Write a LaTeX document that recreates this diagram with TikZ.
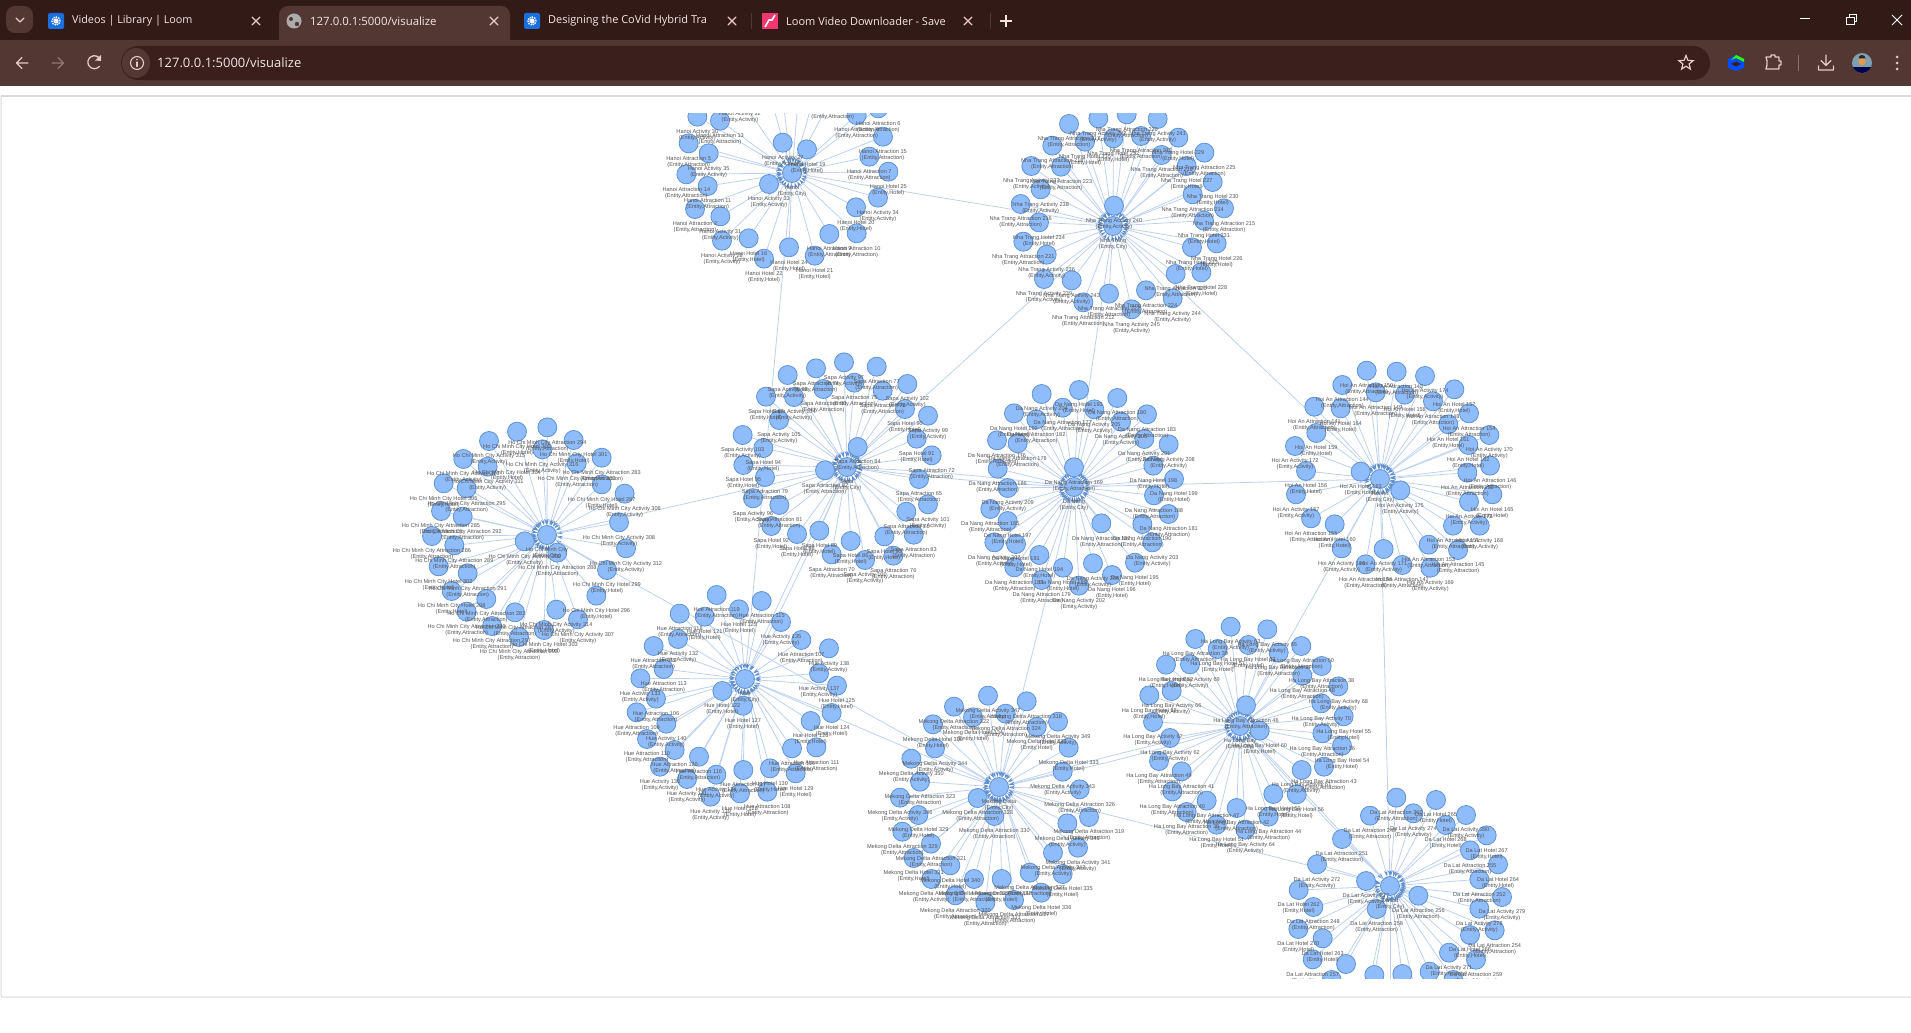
\documentclass[tikz,border=0pt]{standalone}
\usepackage{fontspec}
\setmainfont{Liberation Sans}
\newfontfamily\uifont{Open Sans}
\usetikzlibrary{arrows.meta,shapes.geometric}
\pgfdeclarelayer{edges}\pgfdeclarelayer{labels}\pgfdeclarelayer{chrome}
\pgfsetlayers{edges,main,labels,chrome}
\definecolor{dotfill}{HTML}{8FBCFA}
\definecolor{dotline}{HTML}{5E92D6}
\definecolor{edgecol}{HTML}{BDD1EF}
\definecolor{tipcol}{HTML}{5F8FCC}
\definecolor{labcol}{HTML}{555555}
\definecolor{barcol}{HTML}{321A16}
\definecolor{toolcol}{HTML}{523733}
\definecolor{addrcol}{HTML}{3A1F1C}
\definecolor{uitext}{HTML}{F3E6E2}
\definecolor{uiicon}{HTML}{E8C9C3}
\definecolor{favblue}{HTML}{1A6FDF}
\definecolor{favpink}{HTML}{F0356F}
\tikzset{
  dot/.style={circle,draw=dotline,fill=dotfill,line width=.8pt,minimum size=19pt,inner sep=0pt},
  lab/.style={align=center,inner sep=0pt,text=labcol,font=\fontsize{5.6}{5.9}\selectfont},
  edge/.style={draw=edgecol,line width=.8pt,-{Stealth[length=6pt,width=3.5pt,color=tipcol]}},
  tabtext/.style={anchor=west,inner sep=0pt,text=uitext,font=\uifont\fontsize{11}{14}\selectfont},
  uistroke/.style={draw=uiicon,line width=1.3pt,line cap=round,line join=round},
  winstroke/.style={draw=white,line width=1pt},
}
% what each pass does with a hub
\newcommand\hubdot[4]{\node[dot] (#1) at (#3,#4) {};}
\newcommand\hublabel[4]{\node[lab] (#1-label) at (#3,#4+18.3) {#2\\(Entity,City)};}
% what each pass does with a list of leaves
\newcommand\leafdots[5]{\foreach \cx/\cy/\ty/\nm in {#5}{\node[dot] (#1-\cx-\cy) at ({#3+\cx/3},{#4+\cy/3}) {};}}
\newcommand\leafedges[5]{\foreach \cx/\cy/\ty/\nm in {#5}{\draw[edge] (#1-\cx-\cy) -- (#1);}}
\newcommand\leaflabels[5]{\foreach \cx/\cy/\ty/\nm in {#5}{\node[lab] (#1-\cx-\cy-label) at ({#3+\cx/3},{#4+\cy/3+18.3}) {#2 \ty\ \nm\\(Entity,\ty)};}}
\newcommand\stubdots[4]{\foreach \cx/\cy in {#4}{\node[dot] (#1-\cx-\cy) at ({#2+\cx/3},{#3+\cy/3}) {};}}
\newcommand\stubedges[4]{\foreach \cx/\cy in {#4}{\draw[edge] (#1-\cx-\cy) -- (#1);}}
\newcommand\allhubs[1]{%
#1{hanoi}{Hanoi}{792}{173}
#1{ntrang}{Nha Trang}{1113}{226}
#1{sapa}{Sapa}{847}{467}
#1{danang}{Da Nang}{1074}{487}
#1{hoian}{Hoi An}{1380}{479}
#1{hcmc}{Ho Chi Minh City}{547}{535}
#1{hue}{Hue}{745}{679}
#1{mekong}{Mekong Delta}{999}{787}
#1{halong}{Ha Long Bay}{1240}{726}
#1{dalat}{Da Lat}{1390}{886}
}
\newcommand\allstubs[1]{%
#1{hanoi}{660}{100}{320/-50,360/-70,420/-70,480/-70}
#1{dalat}{1280}{770}{198/582,283/615,367/612,155/630,520/630,330/700,250/720,420/720}
}
\newcommand\allleaves[1]{%
#1{hanoi}{Hanoi}{660}{100}{240/-5/Activity/32,112/50/Activity/30,180/62/Attraction/13,86/130/Attraction/5,146/160/Activity/35,79/223/Attraction/14,143/258/Attraction/11,105/327/Attraction/2,181/349/Activity/31,186/422/Activity/28,266/415/Hotel/16,312/476/Hotel/22,387/442/Hotel/24,464/467/Hotel/21,508/402/Attraction/9,590/400/Attraction/10,588/322/Hotel/20,654/293/Activity/34,685/215/Hotel/25,628/170/Attraction/7,669/110/Attraction/15,655/25/Attraction/6,590/45/Attraction/4,518/-13/Attraction/3,368/128/Activity/27,441/148/Hotel/19,327/252/Activity/33}
#1{ntrang}{Nha Trang}{1000}{100}{342/317/Activity/240,380/43/Attraction/226,295/55/Activity/242,473/57/Activity/241,207/72/Attraction/217,340/115/Hotel/232,423/108/Attraction/213,535/113/Hotel/229,255/125/Hotel/235,157/137/Attraction/218,613/158/Attraction/225,485/165/Attraction/219,560/198/Hotel/227,183/200/Attraction/223,94/198/Activity/237,638/246/Hotel/230,122/268/Activity/238,578/283/Attraction/214,62/312/Attraction/216,672/325/Attraction/215,612/362/Hotel/231,117/367/Hotel/234,650/430/Hotel/226,70/425/Attraction/221,140/464/Activity/236,576/442/Hotel/233,604/517/Hotel/228,132/537/Activity/239,215/541/Activity/243,527/522/Attraction/220,438/571/Attraction/224,250/607/Attraction/212,327/581/Attraction/222,518/595/Activity/244,395/628/Activity/245}
#1{sapa}{Sapa}{720}{340}{372/67/Activity/97,288/85/Attraction/74,470/80/Attraction/77,203/105/Activity/98,403/128/Attraction/75,562/132/Activity/102,310/147/Attraction/80,488/152/Attraction/78,138/170/Hotel/87,222/171/Activity/104,555/207/Hotel/90,624/227/Activity/99,177/240/Activity/105,68/285/Activity/103,590/296/Hotel/91,130/324/Hotel/94,413/321/Attraction/84,635/346/Attraction/72,70/375/Hotel/95,315/391/Attraction/82,135/411/Attraction/79,597/417/Attraction/65,99/475/Activity/96,178/495/Attraction/81,624/493/Activity/101,559/515/Attraction/71,154/558/Hotel/92,581/584/Attraction/83,231/582/Hotel/88,298/572/Hotel/89,392/603/Hotel/86,493/589/Hotel/93,520/647/Attraction/76,335/643/Attraction/70,435/660/Activity/100}
#1{danang}{Da Nang}{960}{380}{245/42/Activity/204,357/30/Hotel/193,472/54/Attraction/180,308/83/Attraction/177,403/88/Activity/205,561/103/Attraction/183,162/100/Hotel/192,229/118/Attraction/182,483/125/Activity/206,553/177/Activity/201,173/190/Attraction/178,111/181/Attraction/176,626/193/Activity/208,580/257/Hotel/198,113/266/Attraction/186,342/262/Attraction/169,642/297/Hotel/199,582/346/Attraction/188,143/324/Activity/209,91/387/Attraction/185,626/402/Attraction/181,143/423/Hotel/197,424/430/Attraction/187,547/432/Attraction/190,103/487/Activity/207,168/492/Hotel/191,577/487/Activity/203,238/525/Hotel/194,163/562/Attraction/184,525/548/Hotel/195,399/550/Activity/200,309/563/Hotel/189,456/585/Hotel/196,245/600/Attraction/179,357/617/Activity/202}
#1{hoian}{Hoi An}{1260}{350}{320/62/Attraction/150,410/65/Attraction/143,495/78/Activity/174,247/105/Attraction/144,347/127/Attraction/149,434/134/Hotel/158,583/118/Hotel/157,519/154/Attraction/148,242/175/Hotel/164,163/170/Attraction/141,627/190/Attraction/154,565/223/Hotel/161,169/249/Hotel/159,688/255/Activity/170,625/285/Hotel/162,105/288/Activity/172,690/347/Attraction/146,138/363/Hotel/156,302/365/Hotel/163,622/368/Attraction/152,421/421/Activity/175,697/433/Hotel/165,108/433/Activity/167,627/455/Activity/173,153/505/Attraction/155,224/523/Hotel/160,659/527/Activity/168,579/527/Attraction/151,245/595/Activity/166,371/597/Activity/171,506/584/Attraction/153,594/600/Attraction/145,317/643/Attraction/156,427/645/Attraction/147,511/653/Activity/169}
#1{hcmc}{Ho Chi Minh City}{400}{410}{442/52/Attraction/294,351/65/Hotel/300,267/93/Activity/315,521/90/Hotel/301,427/118/Activity/316,190/147/Activity/310,605/143/Attraction/283,530/160/Attraction/282,263/170/Activity/311,605/223/Hotel/297,674/251/Activity/306,131/220/Hotel/305,200/235/Attraction/295,123/303/Attraction/285,188/320/Attraction/292,657/337/Activity/308,96/378/Attraction/286,163/406/Attraction/289,374/394/Activity/309,678/415/Activity/312,472/428/Attraction/288,116/469/Hotel/302,203/490/Attraction/291,621/480/Hotel/299,155/543/Hotel/298,259/567/Attraction/281,589/557/Hotel/296,200/605/Attraction/290,345/607/Attraction/287,469/599/Activity/314,534/628/Activity/307,276/648/Attraction/297,432/660/Hotel/303,357/681/Attraction/293}
#1{hue}{Hue}{620}{580}{290/45/Attraction/119,425/63/Attraction/115,179/101/Attraction/118,357/88/Hotel/123,254/110/Hotel/121,483/126/Activity/135,174/177/Activity/132,544/180/Attraction/107,101/198/Attraction/112,627/205/Activity/138,131/267/Attraction/113,597/280/Activity/137,61/295/Activity/133,651/317/Hotel/125,307/333/Hotel/122,108/356/Attraction/106,50/397/Attraction/109,369/377/Hotel/127,635/399/Hotel/124,139/431/Activity/140,572/423/Hotel/126,81/477/Attraction/110,589/502/Attraction/111,164/510/Attraction/120,516/505/Attraction/114,237/530/Attraction/116,120/560/Activity/136,527/580/Hotel/129,201/597/Activity/131,289/584/Activity/134,370/570/Attraction/117,450/565/Hotel/130,272/650/Activity/139,360/640/Hotel/128,442/635/Attraction/108}
#1{mekong}{Mekong Delta}{860}{680}{384/47/Activity/347,500/64/Attraction/318,282/80/Attraction/322,437/101/Attraction/324,339/112/Hotel/334,594/125/Activity/349,219/133/Hotel/330,530/141/Hotel/332,225/205/Activity/344,626/203/Hotel/333,154/236/Activity/350,608/275/Activity/343,180/305/Attraction/323,659/328/Attraction/326,120/353/Activity/346,353/354/Attraction/328,175/405/Hotel/329,403/408/Attraction/330,687/411/Attraction/319,622/430/Activity/345,127/455/Attraction/329,213/491/Attraction/321,654/503/Activity/341,579/518/Activity/342,161/534/Hotel/331,271/556/Hotel/340,214/597/Activity/348,342/597/Attraction/325,425/597/Hotel/337,509/578/Attraction/327,608/582/Hotel/335,286/646/Attraction/320,544/638/Hotel/336,462/660/Attraction/317,376/668/Attraction/331}
#1{halong}{Ha Long Bay}{1120}{610}{332/50/Activity/63,442/58/Activity/65,226/87/Attraction/39,544/108/Attraction/50,293/117/Hotel/57,385/105/Hotel/53,476/128/Attraction/37,138/164/Hotel/52,210/163/Activity/69,605/168/Attraction/38,547/197/Attraction/48,155/243/Activity/66,655/229/Activity/68,88/256/Hotel/58,604/280/Activity/70,378/286/Attraction/46,671/319/Hotel/55,99/336/Activity/67,419/362/Hotel/60,150/384/Activity/62,607/370/Attraction/36,666/407/Hotel/54,117/453/Attraction/49,185/484/Attraction/41,612/470/Attraction/43,545/480/Activity/61,157/544/Attraction/40,260/572/Attraction/47,350/594/Attraction/42,446/620/Attraction/44,460/552/Hotel/59,530/553/Hotel/56,200/606/Attraction/35,290/644/Hotel/51,376/659/Activity/64}
#1{dalat}{Da Lat}{1280}{770}{349/83/Attraction/260,468/90/Hotel/265,270/137/Attraction/249,400/130/Activity/274,558/135/Activity/280,497/165/Hotel/268,620/196/Hotel/267,186/207/Attraction/251,570/241/Attraction/255,654/283/Hotel/264,111/283/Activity/272,258/333/Activity/277,598/328/Attraction/252,56/360/Hotel/262,666/381/Activity/279,415/377/Attraction/256,100/411/Attraction/248,598/416/Activity/278,290/417/Attraction/258,55/477/Hotel/270,128/505/Hotel/263,644/481/Attraction/254,570/495/Hotel/266,507/548/Activity/271,449/605/Attraction/250,588/569/Attraction/259,98/568/Attraction/257}
}
\begin{document}
\begin{tikzpicture}[x=1pt,y=-1pt]
\useasboundingbox (0,0) rectangle (1911,1033);
% ---------- dots
\allhubs\hubdot
\allleaves\leafdots
\allstubs\stubdots
% ---------- connectors, all behind the dots
\begin{pgfonlayer}{edges}
\allleaves\leafedges
\allstubs\stubedges
\draw[edge] (hanoi) -- (ntrang);
\draw[edge] (hanoi) -- (hue);
\draw[edge] (ntrang) -- (sapa);
\draw[edge] (ntrang) -- (danang);
\draw[edge] (ntrang) -- (hoian);
\draw[edge] (hcmc) -- (sapa);
\draw[edge] (sapa) to[bend left=2] (danang);
\draw[edge] (danang) to[bend left=2] (sapa);
\draw[edge] (sapa) to[bend left=2] (hue);
\draw[edge] (hue) to[bend left=2] (sapa);
\draw[edge] (danang) -- (hoian);
\draw[edge] (hcmc) -- (mekong);
\draw[edge] (hue) -- (mekong);
\draw[edge] (danang) -- (mekong);
\draw[edge] (hoian) -- (halong);
\draw[edge] (hoian) -- (dalat);
\draw[edge] (mekong) to[bend left=2] (halong);
\draw[edge] (halong) to[bend left=2] (mekong);
\draw[edge] (mekong) -- (dalat);
\draw[edge] (halong) to[bend left=1] (dalat);
\draw[edge] (dalat) to[bend left=1] (halong);
\end{pgfonlayer}
% ---------- labels, above the dots
\begin{pgfonlayer}{labels}
\allhubs\hublabel
\allleaves\leaflabels
\node[lab] (hcmc-extra) at (507,475.5) {Ho Chi Minh City Hotel 304\\(Entity,Hotel)};
\end{pgfonlayer}
% ---------- browser window
\begin{pgfonlayer}{chrome}
\fill[white] (0,86) rectangle (1911,113);
\fill[white] (0,979) rectangle (1911,1033);
\draw[draw=black!15,line width=1pt,rounded corners=2pt] (1,96) -- (1,997) -- (1915,997);
\draw[draw=black!15,line width=1.5pt] (1,96) -- (1915,96);
\fill[barcol] (0,0) rectangle (1911,40);
\fill[toolcol] (0,40) rectangle (1911,86);
\fill[toolcol,rounded corners=9pt] (6,6) rectangle (33,33);
\fill[toolcol,rounded corners=9pt] (279,6) rectangle (510,50);
\fill[addrcol,rounded corners=17pt] (121,46) rectangle (1710,80);
\fill[toolcol,rounded corners=14pt] (122,48) rectangle (150,78);
% tab row
\draw[uistroke,line width=1.2pt] (16,18) -- (20,22) -- (24,18);
\fill[favblue,rounded corners=2pt] (48,13) rectangle (64,29);
\draw[white,line width=1.4pt,densely dotted] (56,21) circle (4pt);
\fill[white] (56,21) circle (2.6pt);
\node[tabtext,font=\uifont\fontsize{10.8}{14}\selectfont] (tab1) at (72,21) {Videos | Library | Loom};
\fill[gray!65] (294,21) circle (7.5pt);
\fill[toolcol] (291,19) circle (2pt) (297,24) circle (2.2pt);
\node[tabtext,font=\uifont\fontsize{11.4}{14}\selectfont] (tab2) at (310,21) {127.0.0.1:5000/visualize};
\fill[favblue,rounded corners=2pt] (524,13) rectangle (540,29);
\fill[white] (532,21) circle (2.6pt);
\draw[white,line width=1.4pt,densely dotted] (532,21) circle (4pt);
\node[tabtext] (tab3) at (548,21) {Designing the CoVid Hybrid Tra};
\fill[favpink] (762,13) rectangle (778,29);
\draw[white,line width=1.6pt] (765,27) -- (769,20) -- (772,20) -- (775,15);
\node[tabtext] (tab4) at (786,21) {Loom Video Downloader - Save};
\foreach \xx in {256,494,732,968}{
  \draw[uistroke,line width=1.2pt] (\xx-4,17) -- (\xx+4,25) (\xx+4,17) -- (\xx-4,25);
}
\draw[toolcol,line width=1pt] (751,13) -- (751,29) (990,13) -- (990,29);
\draw[uitext,line width=1.2pt] (1000,21) -- (1012,21) (1006,15) -- (1006,27);
\draw[winstroke] (1800,19) -- (1810,19);
\draw[winstroke] (1846.5,17.5) rectangle (1854,25);
\draw[winstroke] (1849,17) -- (1849,15) -- (1856,15) -- (1856,22) -- (1854.5,22);
\draw[winstroke] (1892,15) -- (1902,25) (1902,15) -- (1892,25);
% toolbar
\draw[uistroke] (28,63) -- (17,63) (22,57.5) -- (16.5,63) -- (22,68.5);
\draw[uistroke,draw=uiicon!45!toolcol] (52,63) -- (63,63) (58,57.5) -- (63.5,63) -- (58,68.5);
\draw[uistroke] (100,59) arc[start angle=-30,end angle=-320,radius=6.5];
\fill[uiicon] (101,55) -- (101,61) -- (95,60.5) -- cycle;
\draw[uistroke,line width=1.1pt] (137,63) circle (6.5pt);
\draw[uistroke,line width=1.2pt] (137,62) -- (137,66.5) (137,59.5) -- (137,59.6);
\node[tabtext,font=\uifont\fontsize{13}{14}\selectfont] (url) at (157,63) {127.0.0.1:5000/visualize};
\node[star,star points=5,star point ratio=2.3,minimum size=15pt,inner sep=0pt,draw=uiicon,line width=1.2pt] (starbtn) at (1686,63) {};
\fill[blue!70!cyan] (1736,55) -- (1744,59) -- (1744,68) -- (1736,71) -- (1728,68) -- (1728,59) -- cycle;
\fill[green!80!yellow] (1736,55) -- (1744,59) -- (1744,62) -- (1736,58) -- (1731,60) -- cycle;
\fill[addrcol] (1731,64) -- (1736,61.5) -- (1741,64) -- (1736,66.5) -- cycle;
\draw[uistroke] (1766,57) -- (1771,57) -- (1771,55) -- (1775,55) -- (1775,57) -- (1779,57) -- (1779,61) -- (1781,61) -- (1781,65) -- (1779,65) -- (1779,69) -- (1766,69) -- (1767,65) -- (1767,61) -- cycle;
\draw[toolcol!70!white,line width=1pt] (1798,55) -- (1798,71);
\draw[uistroke] (1826,55) -- (1826,65) (1821,60.5) -- (1826,65.5) -- (1831,60.5) (1818.5,66) -- (1818.5,70) -- (1833.5,70) -- (1833.5,66);
\fill[cyan!30!gray] (1862,63) circle (10pt);
\begin{scope}
\clip (1862,63) circle (10pt);
\fill[black!70!blue] (1852,74) rectangle (1872,67.5);
\fill[orange!45!brown!80!white] (1862,61) ellipse (3.6pt and 4.6pt);
\fill[black!85] (1858.5,58.5) arc[start angle=180,end angle=360,radius=3.5] -- cycle;
\end{scope}
\fill[uiicon] (1897,57) circle (1.5pt) (1897,63) circle (1.5pt) (1897,69) circle (1.5pt);
\end{pgfonlayer}
\end{tikzpicture}
\end{document}
